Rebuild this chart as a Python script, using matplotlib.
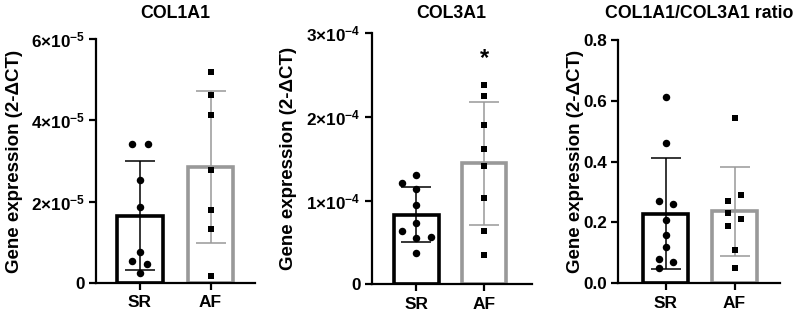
import numpy as np
import matplotlib
matplotlib.use("Agg")
import matplotlib.pyplot as plt

plt.rcParams['font.family'] = ['Liberation Sans', 'DejaVu Sans']
plt.rcParams['font.weight'] = 'bold'
plt.rcParams['mathtext.fontset'] = 'custom'
plt.rcParams['mathtext.rm'] = 'Liberation Sans:bold'
plt.rcParams['mathtext.default'] = 'rm'

# data
groups = ["SR", "AF"]
titles = ["COL1A1", "COL3A1", "COL1A1/COL3A1 ratio"]
ylabel = "Gene expression (2-\u0394CT)"

col1_sr = [3.42e-5, 3.42e-5, 2.53e-5, 1.86e-5, 0.77e-5, 0.54e-5, 0.46e-5, 0.24e-5]
col1_af = [5.18e-5, 4.62e-5, 4.12e-5, 2.78e-5, 1.80e-5, 1.32e-5, 0.16e-5]
col3_sr = [1.306e-4, 1.207e-4, 1.135e-4, 0.948e-4, 0.736e-4, 0.641e-4, 0.569e-4, 0.550e-4, 0.378e-4]
col3_af = [2.38e-4, 2.25e-4, 1.90e-4, 1.62e-4, 1.41e-4, 1.03e-4, 0.64e-4, 0.35e-4]
ratio_sr = [0.614, 0.462, 0.272, 0.260, 0.208, 0.159, 0.120, 0.080, 0.069, 0.049]
ratio_af = [0.543, 0.290, 0.271, 0.230, 0.210, 0.189, 0.110, 0.049]

# horizontal scatter of the points inside each column
jit1_sr = [-0.11, 0.11, 0, 0, 0, -0.11, 0.1, 0]
jit1_af = [0, 0, 0, 0, 0, 0, 0]
jit3_sr = [0, -0.21, 0, 0, 0, -0.21, 0.21, 0, 0]
jit3_af = [0, 0, 0, 0, 0, 0, 0, 0]
jitr_sr = [0, 0, -0.1, 0.1, 0, 0, 0, -0.1, 0.1, -0.1]
jitr_af = [0, 0.1, -0.1, -0.1, 0.1, -0.1, 0, 0]

yticks1 = [0, 2e-5, 4e-5, 6e-5]
ylab1 = ["0", r"$2{\times}10^{-5}$", r"$4{\times}10^{-5}$", r"$6{\times}10^{-5}$"]
yticks3 = [0, 1e-4, 2e-4, 3e-4]
ylab3 = ["0", r"$1{\times}10^{-4}$", r"$2{\times}10^{-4}$", r"$3{\times}10^{-4}$"]
yticksr = [0, 0.2, 0.4, 0.6, 0.8]
ylabr = ["0.0", "0.2", "0.4", "0.6", "0.8"]

GRAY = "#999999"

fig = plt.figure(figsize=(7.97, 3.17), dpi=100)

panels = [
    dict(pos=[0.1205, 0.1073, 0.1995, 0.770], sr=col1_sr, af=col1_af, jsr=jit1_sr, jaf=jit1_af,
         yt=yticks1, yl=ylab1, xlim=(-0.62, 1.63), labx=-0.458),
    dict(pos=[0.4664, 0.1032, 0.2008, 0.792], sr=col3_sr, af=col3_af, jsr=jit3_sr, jaf=jit3_af,
         yt=yticks3, yl=ylab3, xlim=(-0.66, 1.70), labx=-0.467),
    dict(pos=[0.7758, 0.1063, 0.2029, 0.7675], sr=ratio_sr, af=ratio_af, jsr=jitr_sr, jaf=jitr_af,
         yt=yticksr, yl=ylabr, xlim=(-0.69, 1.66), labx=-0.215),
]

for i, p in enumerate(panels):
    ax = fig.add_axes(p["pos"])
    sets = [np.array(p["sr"]), np.array(p["af"])]
    jits = [np.array(p["jsr"]), np.array(p["jaf"])]
    cols = ["black", GRAY]
    marks = ["o", "s"]
    sizes = [5.4, 5.0]
    for k in range(2):
        m = sets[k].mean()
        sd = sets[k].std(ddof=1)
        ax.bar(k, m, width=0.65, color="white", edgecolor=cols[k], linewidth=2.6, zorder=1)
        ax.errorbar(k, m, yerr=sd, color=cols[k], lw=1.1, capsize=11, capthick=1.1, zorder=2)
        ax.plot(k + jits[k], sets[k], marks[k], color="black", ms=sizes[k], mew=0, zorder=3,
                clip_on=False)

    ax.set_xlim(*p["xlim"])
    ax.set_ylim(p["yt"][0], p["yt"][-1])
    ax.set_yticks(p["yt"], p["yl"])
    ax.set_xticks([0, 1], groups)
    for s in ["top", "right"]:
        ax.spines[s].set_visible(False)
    for s in ["left", "bottom"]:
        ax.spines[s].set_linewidth(1.6)
    ax.tick_params(axis="both", length=5, width=1.6, labelsize=12.3, pad=3)
    ax.tick_params(axis="x", labelsize=12.5, pad=4)
    ax.set_ylabel(ylabel, fontsize=13.5, fontweight="bold")
    ax.yaxis.set_label_coords(p["labx"], 0.5)

    cx = p["pos"][0] + p["pos"][2] / 2
    fig.text(cx, 1 - 14 / 317, titles[i], ha="center", va="center", fontsize=12.8, fontweight="bold")

    if i == 1:
        ax.text(1, 2.70e-4, "*", ha="center", va="center", fontsize=17, fontweight="bold")

fig.savefig("out.png", dpi=100)
